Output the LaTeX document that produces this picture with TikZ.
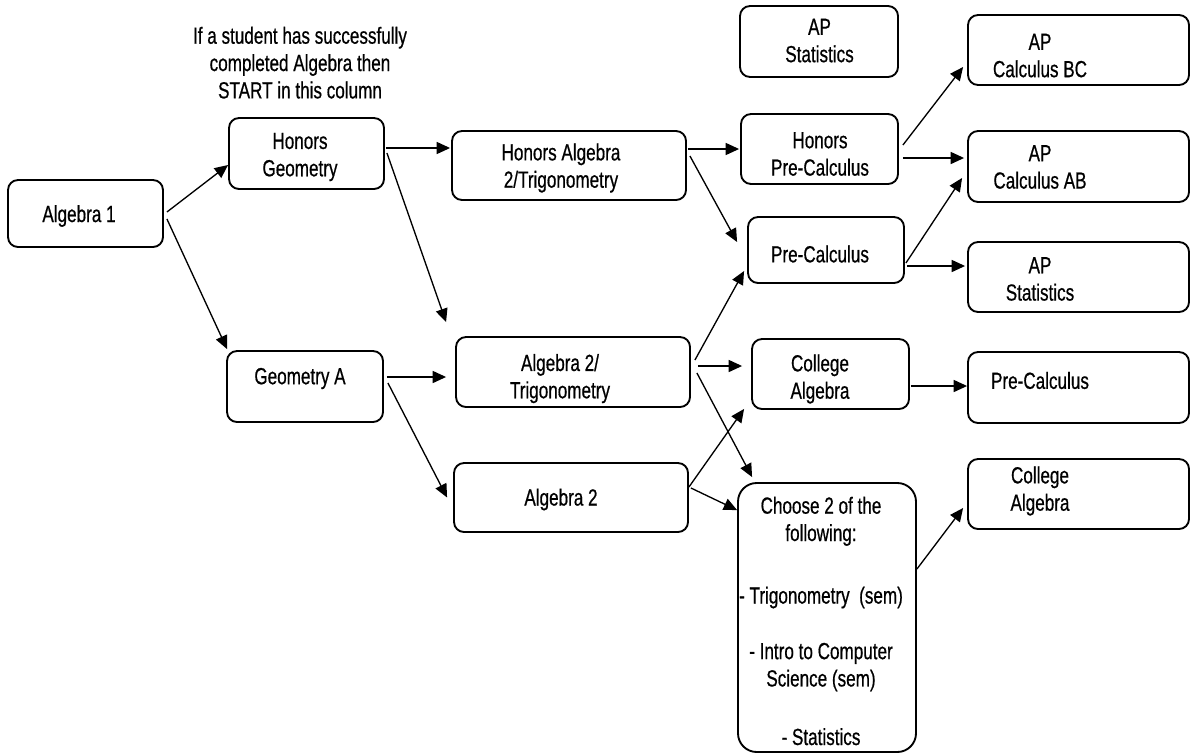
\documentclass[tikz,border=0pt]{standalone}
\usepackage{fontspec}
\setmainfont{Liberation Sans}[FakeStretch=0.733,FakeBold=0.6]
\usetikzlibrary{arrows.meta,calc}
\begin{document}
\begin{tikzpicture}[x=0.75pt,y=-0.75pt,
  box/.style 2 args={draw, line width=1.4pt, rounded corners=7.5pt, minimum width=#1*0.75pt, minimum height=#2*0.75pt, inner sep=0pt},
  txt/.style={align=center, inner sep=0pt, font=\fontsize{17.5}{20.5}\selectfont},
  arr/.style={-{Triangle[length=10pt,width=9pt]}, line width=1pt}]
\useasboundingbox (0,0) rectangle (1191,753);
% boxes
\node[box={155}{67}] (alg1) at (85.5,213.5) {};
\node[box={155}{71}] (hgeo) at (306.5,153.5) {};
\node[box={234}{69}] (hat) at (569,165.5) {};
\node[box={158}{71}] (aps1) at (819,41.5) {};
\node[box={157}{70}] (hpc) at (819.5,149) {};
\node[box={156}{66}] (pc) at (826,250) {};
\node[box={156}{71}] (geoa) at (305,386.5) {};
\node[box={234}{70}] (at) at (573,372) {};
\node[box={234}{69}] (a2) at (571,497.5) {};
\node[box={157}{70}] (ca) at (830.5,374) {};
\node[box={178}{269}, rounded corners=14pt] (ch) at (827,617.5) {};
\node[box={221}{70}] (bc) at (1078.5,50) {};
\node[box={221}{71}] (ab) at (1078.5,166.5) {};
\node[box={221}{70}] (aps2) at (1078.5,277) {};
\node[box={221}{71}] (pc2) at (1078.5,387.5) {};
\node[box={221}{70}] (ca2) at (1078.5,494) {};
% texts
\node[txt] (note) at (300,62.7) {If a student has successfully\\completed Algebra then\\START in this column};
\node[txt] (alg1t) at (79,216) {Algebra 1};
\node[txt] (hgeot) at (300,157) {Honors\\Geometry};
\node[txt] (hatt) at (561,168) {Honors Algebra\\2/Trigonometry};
\node[txt] (aps1t) at (819.5,40.6) {AP\\Statistics};
\node[txt] (hpct) at (820,154) {Honors\\Pre-Calculus};
\node[txt] (pct) at (820,254) {Pre-Calculus};
\node[txt] (geoat) at (300,378.5) {Geometry A};
\node[txt] (att) at (560,378.6) {Algebra 2/\\Trigonometry};
\node[txt] (a2t) at (561,499.5) {Algebra 2};
\node[txt] (cat) at (820,379) {College\\Algebra};
\node[txt] (cht) at (821,621) {Choose 2 of the\\following:\\[26.4pt]- Trigonometry\ \ (sem)\\[21.2pt]- Intro to Computer\\Science (sem)\\[23.4pt]- Statistics};
\node[txt] (bct) at (1040,55.6) {AP\\Calculus BC};
\node[txt] (abt) at (1040,167) {AP\\Calculus AB};
\node[txt] (aps2t) at (1040,279) {AP\\Statistics};
\node[txt] (pc2t) at (1040,380.5) {Pre-Calculus};
\node[txt] (ca2t) at (1040,491) {College\\Algebra};
% arrows
\draw[arr] ($(alg1.east)+(3,-1.5)$) -- ($(hgeo.west)+(0,11.5)$);
\draw[arr] ($(alg1.east)+(3,5.5)$) -- ($(geoa.north west)+(1,-1)$);
\draw[arr] ($(hgeo.east)+(1,-5.5)$) -- ($(hat.west)+(-1,-17.5)$);
\draw[arr] ($(hgeo.east)+(2,-0.5)$) -- ($(at.north west)+(-9,-14)$);
\draw[arr] ($(hat.east)+(1,-16.5)$) -- ($(hpc.west)+(-1,0)$);
\draw[arr] ($(hat.east)+(3,-9.5)$) -- ($(pc.west)+(-10,-8)$);
\draw[arr] ($(hpc.east)+(4,-4)$) -- ($(bc.west)+(-4,17)$);
\draw[arr] ($(hpc.east)+(4,9)$) -- ($(ab.west)+(-3,-8.5)$);
\draw[arr] ($(pc.east)+(1,13)$) -- ($(ab.west)+(-5,11.5)$);
\draw[arr] ($(pc.east)+(2,16)$) -- ($(aps2.west)+(-2,-11)$);
\draw[arr] ($(geoa.east)+(3,-9.5)$) -- ($(at.west)+(-9,5)$);
\draw[arr] ($(geoa.east)+(4,-3.5)$) -- ($(a2.west)+(-6,0)$);
\draw[arr] ($(at.east)+(4,-12)$) -- ($(pc.west)+(-3,21)$);
\draw[arr] ($(at.east)+(7,-6)$) -- ($(ca.west)+(-9,-8)$);
\draw[arr] ($(at.east)+(6,1)$) -- ($(ch.north west)+(15,-5)$);
\draw[arr] ($(a2.east)+(0,-10.5)$) -- ($(ca.south west)+(-7,-1)$);
\draw[arr] ($(a2.east)+(2,-9.5)$) -- ($(ch.north west)+(0,28)$);
\draw[arr] ($(ca.east)+(1,12)$) -- ($(pc2.west)+(0,-1.5)$);
\draw[arr] ($(ch.east)+(0,-48.5)$) -- ($(ca2.west)+(-4,14)$);
\end{tikzpicture}
\end{document}
